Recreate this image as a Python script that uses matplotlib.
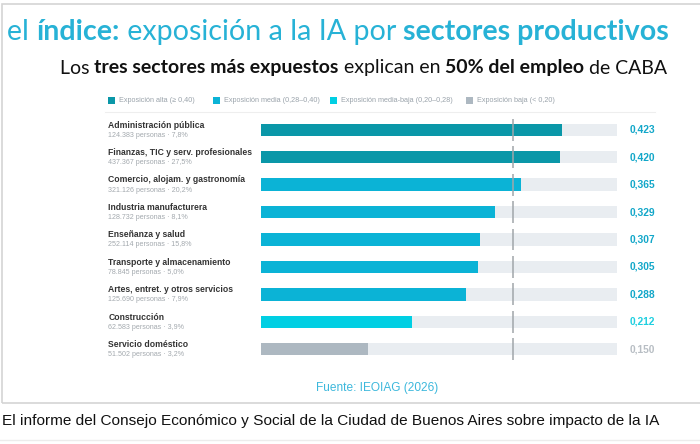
import matplotlib.pyplot as plt
from matplotlib.patches import Rectangle
from matplotlib.lines import Line2D

sectors = ["Administración pública", "Finanzas, TIC y serv. profesionales",
           "Comercio, alojam. y gastronomía", "Industria manufacturera",
           "Enseñanza y salud", "Transporte y almacenamiento",
           "Artes, entret. y otros servicios", "Construcción", "Servicio doméstico"]
personas = ["124.383", "437.367", "321.126", "128.732", "252.114",
            "78.845", "125.690", "62.583", "51.502"]
shares = ["7,8%", "27,5%", "20,2%", "8,1%", "15,8%", "5,0%", "7,9%", "3,9%", "3,2%"]
values = [0.423, 0.420, 0.365, 0.329, 0.307, 0.305, 0.288, 0.212, 0.150]
reference = 0.354
axis_max = 0.5

legend_labels = ["Exposición alta (≥ 0,40)", "Exposición media (0,28–0,40)",
                 "Exposición media-baja (0,20–0,28)", "Exposición baja (< 0,20)"]
bar_colors = ["#0a97a8", "#0bb3d6", "#00cfe3", "#adb8c1"]
text_colors = ["#12a7c9", "#12a7c9", "#1fcfe0", "#b8bec4"]


def level(v):
    if v >= 0.40:
        return 0
    if v >= 0.28:
        return 1
    if v >= 0.20:
        return 2
    return 3


W, H = 700, 444
fig = plt.figure(figsize=(7, 4.44), dpi=100)
fig.patch.set_facecolor("white")


def fx(px):
    return px / W


def fy(py):
    return 1 - py / H


def rich(x, y, parts, size, family, color):
    # draw a line of text made of (string, weight) pieces one after the other
    r = fig.canvas.get_renderer()
    for s, w in parts:
        t = fig.text(x, y, s, fontsize=size, fontweight=w, family=family,
                     color=color, va="center", ha="left")
        bb = t.get_window_extent(renderer=r)
        x += bb.width / fig.bbox.width


# outer frame and caption lines
fig.add_artist(Rectangle((fx(2), fy(403)), fx(720), fy(4) - fy(403),
                         fill=False, edgecolor="#d4d4d4", lw=1.2,
                         transform=fig.transFigure))
fig.add_artist(Line2D([0, 1], [fy(440), fy(440)], color="#ececec", lw=1,
                      transform=fig.transFigure))

rich(fx(7), fy(32), [("el ", "normal"), ("índice:", "bold"),
                     (" exposición a la IA por ", "normal"),
                     ("sectores productivos", "bold")], 20.6, "Lato", "#27b2d6")
rich(fx(60), fy(68), [("Los ", "normal"), ("tres sectores más expuestos", "bold"),
                      (" explican en ", "normal"), ("50% del empleo", "bold"),
                      (" de CABA", "normal")], 14, "Lato", "#111111")

# legend
leg_x = [108, 213, 330, 466]
for lx, lab, col in zip(leg_x, legend_labels, bar_colors):
    fig.add_artist(Rectangle((fx(lx), fy(104)), fx(7), fy(97) - fy(104),
                             facecolor=col, edgecolor="none",
                             transform=fig.transFigure))
    fig.text(fx(lx + 11), fy(100.5), lab, fontsize=5.2, color="#9aa3ab",
             family="Liberation Sans", va="center")
fig.add_artist(Line2D([fx(105), fx(655)], [fy(112), fy(112)], color="#eeeeee",
                      lw=0.8, transform=fig.transFigure))

# bars
ax = fig.add_axes([fx(261), fy(363), fx(617) - fx(261), fy(116) - fy(363)])
ax.set_xlim(0, axis_max)
ax.set_ylim(len(values) - 0.5, -0.5)
ax.axis("off")
rows = list(range(len(values)))
levels = [level(v) for v in values]
ax.barh(rows, [axis_max] * len(values), height=0.45, color="#e9edf1", zorder=1)
ax.barh(rows, values, height=0.45, color=[bar_colors[l] for l in levels], zorder=2)
for i in rows:
    ax.plot([reference, reference], [i - 0.4, i + 0.4], color="#a0a6aa",
            lw=1.1, zorder=3, solid_capstyle="butt")
    ax.text(0.518, i, f"{values[i]:.3f}".replace(".", ","), fontsize=7.4,
            fontweight="bold", color=text_colors[levels[i]],
            family="Liberation Sans", va="center", clip_on=False)
    ax.text(-0.2145, i - 0.17, sectors[i], fontsize=6.2, fontweight="bold",
            color="#333333", family="Liberation Sans", va="center", clip_on=False)
    ax.text(-0.2145, i + 0.2, f"{personas[i]} personas · {shares[i]}",
            fontsize=5.1, color="#a3a9ae", family="Liberation Sans",
            va="center", clip_on=False)

fig.text(fx(377), fy(388), "Fuente: IEOIAG (2026)", fontsize=8.6, color="#3db8dc",
         family="Liberation Sans", ha="center", va="center")
fig.text(fx(2), fy(421), "El informe del Consejo Económico y Social de la Ciudad "
         "de Buenos Aires sobre impacto de la IA", fontsize=11.1, color="#111111",
         family="Liberation Sans", va="center")

fig.savefig("out.png", dpi=100)
